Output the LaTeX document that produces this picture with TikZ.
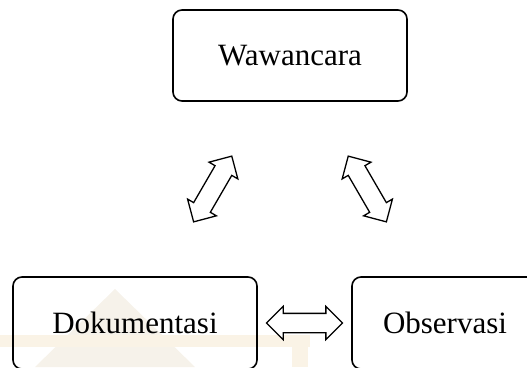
\documentclass[tikz,border=0pt]{standalone}
\usepackage{fontspec}
\setmainfont{Liberation Serif}
\usepackage{tikz}
\usetikzlibrary{positioning,shapes.arrows,backgrounds}
\definecolor{wmtan}{RGB}{246,242,234}
\definecolor{wmband}{RGB}{250,243,230}

\begin{document}
\begin{tikzpicture}[x=1pt, y=1pt,
    box/.style={rectangle, draw=black, rounded corners=9pt, line width=1.6pt,
    text centered, inner sep=0pt, minimum height=92pt, font=\fontsize{31}{37}\selectfont},
    dblarrow/.style={double arrow, draw=black, line width=1.3pt, fill=white,
    minimum height=76pt, inner xsep=0pt, inner ysep=9pt, double arrow head extend=7pt}]
    \useasboundingbox (0,0) rectangle (527,367);

    % faint watermark
    \fill[wmtan] (35,0) -- (115,78) -- (195,0) -- cycle;
    \fill[wmband] (0,20) rectangle (310,32);
    \fill[wmband] (292,0) rectangle (308,32);

    \node (wawancara) [box, minimum width=234pt, minimum height=91pt] at (290,311.5) {Wawancara};

    \node (dokumentasi) [box, minimum width=244pt] at (135,44) {Dokumentasi};

    \node (observasi) [box, minimum width=186pt] at (445,44) {Observasi};

    \path (dokumentasi) -- node (dok-obs) [dblarrow] {} (observasi);
    \path (dokumentasi) -- node (dok-waw) [dblarrow, sloped] {} (wawancara);
    \path (observasi) -- node (obs-waw) [dblarrow, sloped] {} (wawancara);
\end{tikzpicture}
\end{document}
